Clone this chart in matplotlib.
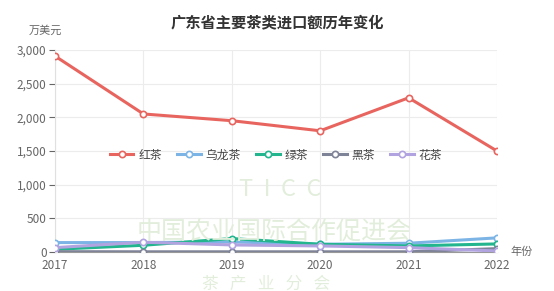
import numpy as np
import matplotlib.pyplot as plt

plt.rcParams['font.family'] = ['Noto Sans CJK SC', 'DejaVu Sans']

years = [2017, 2018, 2019, 2020, 2021, 2022]
names = ['红茶', '乌龙茶', '绿茶', '黑茶', '花茶']
hongcha = [2910, 2050, 1950, 1800, 2290, 1500]
wulong = [140, 140, 150, 115, 130, 210]
lvcha = [40, 100, 200, 115, 90, 120]
heicha = [5, 3, 3, 3, 3, 50]
huacha = [65, 145, 105, 90, 65, 15]
colors = ['#e8655f', '#7db4e6', '#22b58e', '#7f8398', '#b1a3e0']

fig = plt.figure(figsize=(5.54, 2.91), dpi=100)
ax = fig.add_axes([55/554, 1-252/291, 442/554, 202/291])

# faint watermark
wm = '#e2eedb'
fig.text(0.505, 1-190/291, 'T  I  C  C', ha='center', va='center', fontsize=17, color=wm, zorder=0)
fig.text(0.495, 1-232/291, '中国农业国际合作促进会', ha='center', va='center', fontsize=18, color=wm, zorder=0)
fig.text(0.48, 1-284/291, '茶   产   业   分   会', ha='center', va='center', fontsize=12, color=wm, zorder=0)

series = [hongcha, wulong, lvcha, heicha, huacha]
for vals, name, c in zip(series, names, colors):
    ax.plot(years, vals, color=c, lw=2.2, marker='o', ms=4.5, mfc='white', mec=c, mew=1.2,
            label=name, zorder=3)

ax.set_xlim(2017, 2022)
ax.set_ylim(0, 3000)
ax.set_yticks(range(0, 3001, 500))
ax.set_yticklabels([f'{v:,}' for v in range(0, 3001, 500)])
ax.set_xticks(years)
ax.grid(True, color='#ececec', lw=0.8)
ax.set_axisbelow(True)
ax.patch.set_alpha(0)
for s in ['top', 'right']:
    ax.spines[s].set_visible(False)
ax.spines['left'].set_color('#e0e0e0')
ax.spines['bottom'].set_color('#999999')
ax.tick_params(axis='y', colors='#666666', labelsize=8.5, length=4, width=0.8, pad=2)
ax.tick_params(axis='x', colors='#666666', labelsize=8.5, length=0, pad=5)
for lab in ax.get_yticklabels() + ax.get_xticklabels():
    lab.set_color('#666666')

fig.text(0.5, 1-22/291, '广东省主要茶类进口额历年变化', ha='center', va='center',
         fontsize=11, fontweight='bold', color='#333333')
fig.text(45/554, 1-31/291, '万美元', ha='center', va='center', fontsize=8, color='#666666')
fig.text(522/554, 1-252/291, '年份', ha='center', va='center', fontsize=8, color='#666666')

ax.legend(loc='center', bbox_to_anchor=(0.5, 0.48), ncol=5, frameon=False,
          fontsize=8.5, handlelength=2.0, columnspacing=1.3, handletextpad=0.4,
          labelcolor='#444444')

fig.savefig('out.png', dpi=100)
